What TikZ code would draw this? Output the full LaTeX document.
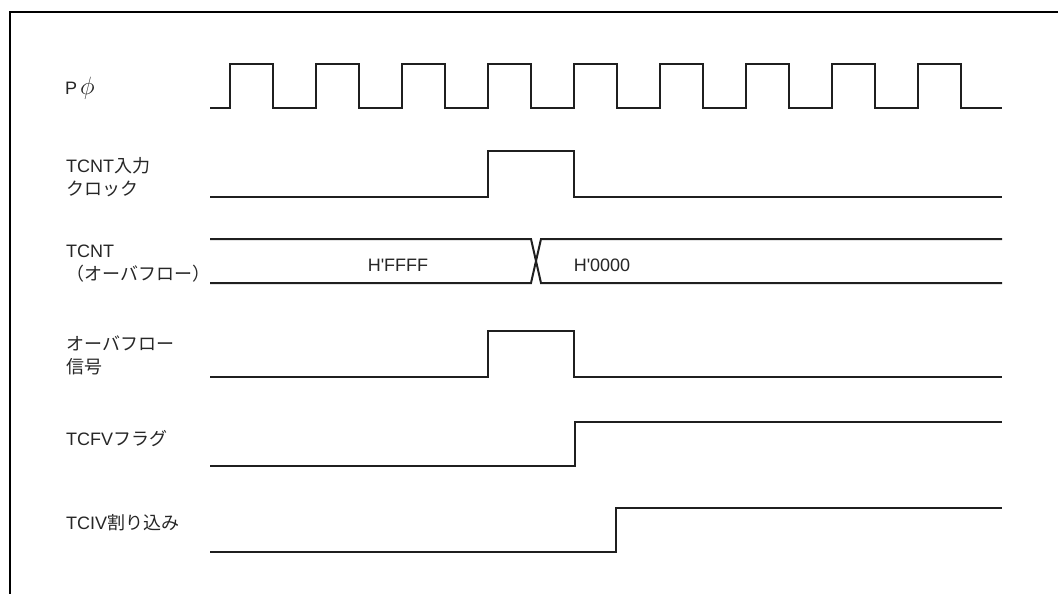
\documentclass[tikz,border=0pt]{standalone}
\usepackage{graphicx}
\usepackage{fontspec}
\setmainfont{Liberation Sans}
\newfontfamily\jp{Noto Sans CJK JP}
\usetikzlibrary{positioning}

\begin{document}
\begin{tikzpicture}[x=1pt, y=-1pt, font=\fontsize{18}{23}\selectfont, text=black!85,
  sig/.style={line width=2pt, draw=black!88, line join=miter},
  frame/.style={line width=2.5pt, draw=black},
  lbl/.style={anchor=base west, inner sep=0pt, align=left},
  val/.style={anchor=base, inner sep=0pt}]
  \useasboundingbox (0,0) rectangle (1058,594);
  \draw[frame] (10,594) -- (10,12) -- (1058,12);
  % signal names
  \node[lbl] (pclk) at (65,95) {P\,\scalebox{1.45}{$\phi$}};
  \node[lbl] (tclk) at (66,195) {TCNT{\jp 入力}\\{\jp クロック}};
  \node[lbl] (tcnt) at (66,280) {TCNT\\{\jp （オーバフロー）}};
  \node[lbl] (ovf) at (66,373) {{\jp オーバフロー}\\{\jp 信号}};
  \node[lbl] (tcfv) at (66,445) {TCFV{\jp フラグ}};
  \node[lbl] (tciv) at (66,529) {TCIV{\jp 割り込み}};
  % P phi
  \draw[sig] (210,108) \foreach \t in {230,316,...,918} { -- (\t,108) -- (\t,64) -- (\t+43,64) -- (\t+43,108) } -- (1002,108);
  % TCNT input clock
  \draw[sig] (210,197) -- (488,197) -- (488,151) -- (574,151) -- (574,197) -- (1002,197);
  % TCNT
  \draw[sig] (210,239) -- (531,239) -- (541,283) -- (1002,283);
  \draw[sig] (210,283) -- (531,283) -- (541,239) -- (1002,239);
  \node[val] (vff) at (398,271) {H\textquotesingle FFFF};
  \node[val] (v00) at (602,271) {H\textquotesingle 0000};
  % overflow
  \draw[sig] (210,377) -- (488,377) -- (488,331) -- (574,331) -- (574,377) -- (1002,377);
  % TCFV
  \draw[sig] (210,466) -- (575,466) -- (575,422) -- (1002,422);
  % TCIV
  \draw[sig] (210,552) -- (616,552) -- (616,508) -- (1002,508);
\end{tikzpicture}
\end{document}
